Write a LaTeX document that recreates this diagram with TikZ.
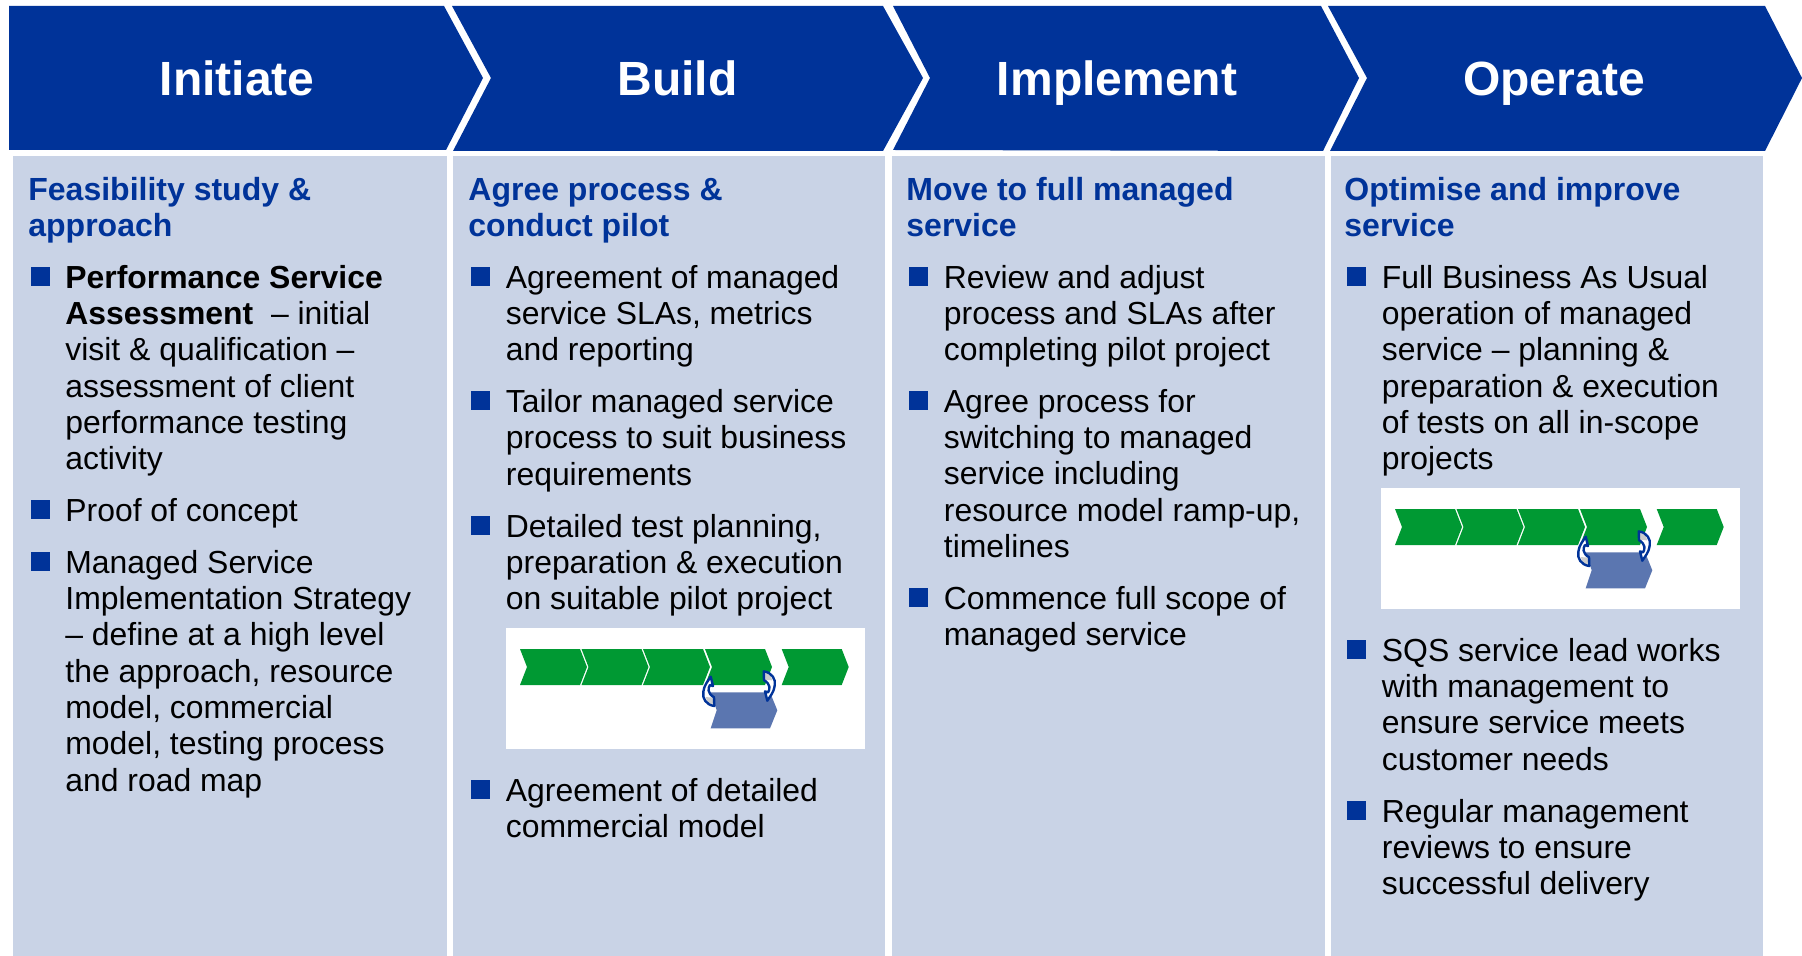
\documentclass[tikz,border=0pt]{standalone}
\usepackage{fontspec}
\setmainfont{Liberation Sans}
\definecolor{sqsblue}{HTML}{003399}
\definecolor{panelblue}{HTML}{C9D3E6}
\definecolor{stepgreen}{HTML}{009933}
\definecolor{chipblue}{HTML}{5B76B0}
\definecolor{turngray}{HTML}{CCCCCC}

\tikzset{
  bannertitle/.style={anchor=base, inner sep=0pt, white, font=\fontsize{24}{28}\selectfont\bfseries},
  phasehead/.style={anchor=north west, inner sep=0pt, yshift=11.4pt, align=left, sqsblue,
    font=\fontsize{16}{18}\selectfont\bfseries, execute at begin node=\strut},
  bodytext/.style={anchor=north west, inner sep=0pt, yshift=11.1pt, align=left,
    font=\fontsize{15.95}{18.15}\selectfont, execute at begin node=\strut},
  bulletmark/.style={fill=sqsblue, minimum size=9.5pt, inner sep=0pt, yshift=5.25pt},
  turnarrow/.pic={
    \fill[white] (5.3,15) .. controls (-3,14) and (-7,7) .. (-5.7,1) .. controls (-5,-3) and (-4,-6) .. (-2.5,-8)
      -- (1.7,-14.3) -- (4,-5) -- (1,-6) .. controls (-1,-3) and (-2,2) .. (5,6.3) -- cycle;
    \fill[turngray] (5.3,15) .. controls (0,14) and (-3,10) .. (-3,6) .. controls (-1,6) and (2,7) .. (5,6.3) -- cycle;
    \draw[sqsblue, line width=1.2pt, line join=round] (5.3,15) .. controls (-3,14) and (-7,7) .. (-5.7,1) .. controls (-5,-3) and (-4,-6) .. (-2.5,-8)
      -- (1.7,-14.3) -- (4,-5) -- (1,-6) .. controls (-1,-3) and (-2,2) .. (5,6.3) -- cycle;
  }
}

\newcommand{\miniprocess}[2]{
  \begin{scope}[shift={(#1,#2)}]
    \fill[white] (0,0) rectangle (358.5,120.5);
    \foreach \xa in {14,75.5,137,199,275.7} {
      \fill[stepgreen] (\xa,21) -- ++(60,0) -- ++(7,18) -- ++(-7,18) -- ++(-60,0) -- ++(7,-18) -- cycle;
    }
    \fill[chipblue] (204.7,64.3) -- (264,64.3) -- (271.3,82.3) -- (264,100.3) -- (204.7,100.3) -- (210.7,82.3) -- cycle;
    \pic at (203,63) {turnarrow};
    \pic[rotate=180] at (263,58.4) {turnarrow};
  \end{scope}
}

\begin{document}
\begin{tikzpicture}[x=0.5pt, y=-0.5pt]
  \useasboundingbox (0,0) rectangle (1802,956);

  % banner
  \fill[sqsblue] (9,6) -- (444,6) -- (483,78) -- (446,150) -- (9,150) -- cycle;
  \fill[sqsblue] (452,6) -- (883,6) -- (923,78) -- (883,151) -- (453,151) -- (491,78) -- cycle;
  \fill[sqsblue] (893,6) -- (1321,6) -- (1359,78) -- (1323,151) -- (893,150) -- (930,78) -- cycle;
  \fill[sqsblue] (1328,6) -- (1765,6) -- (1802,78) -- (1765,151) -- (1330,151) -- (1367,78) -- cycle;

  \node[bannertitle] (initiate) at (237,96) {Initiate};
  \node[bannertitle] (build) at (677.5,96) {Build};
  \node[bannertitle] (implement) at (1117,96) {Implement};
  \node[bannertitle] (operate) at (1554,96) {Operate};

  % panels
  \fill[panelblue] (13,156) rectangle (447,956);
  \fill[panelblue] (453,156) rectangle (885,956);
  \fill[panelblue] (892,156) rectangle (1325,956);
  \fill[panelblue] (1331,156) rectangle (1763,956);

  % initiate
  \node[phasehead] (headA) at (28,200) {Feasibility study \&\\approach};
  \node[bulletmark] (markA1) at (40.5,287) {};
  \node[bodytext] (itemA1) at (65,287) {\textbf{Performance Service}\\\textbf{Assessment}~ – initial\\visit \& qualification –\\assessment of client\\performance testing\\activity};
  \node[bulletmark] (markA2) at (40.5,520.3) {};
  \node[bodytext, yshift=1.1pt] (itemA2) at (65,520.3) {Proof of concept};
  \node[bulletmark] (markA3) at (40.5,572) {};
  \node[bodytext] (itemA3) at (65,572) {Managed Service\\Implementation Strategy\\– define at a high level\\the approach, resource\\model, commercial\\model, testing process\\and road map};

  % build
  \node[phasehead] (headB) at (468,200.5) {Agree process \&\\conduct pilot};
  \node[bulletmark] (markB1) at (480.5,287) {};
  \node[bodytext] (itemB1) at (505.5,287) {Agreement of managed\\service SLAs, metrics\\and reporting};
  \node[bulletmark] (markB2) at (480.5,411.1) {};
  \node[bodytext] (itemB2) at (505.5,411.1) {Tailor managed service\\process to suit business\\requirements};
  \node[bulletmark] (markB3) at (480.5,536) {};
  \node[bodytext] (itemB3) at (505.5,536) {Detailed test planning,\\preparation \& execution\\on suitable pilot project};
  \miniprocess{506}{628}
  \node[bulletmark] (markB4) at (480.5,800) {};
  \node[bodytext] (itemB4) at (505.5,800) {Agreement of detailed\\commercial model};

  % implement
  \node[phasehead] (headC) at (906,200) {Move to full managed\\service};
  \node[bulletmark] (markC1) at (918.5,287) {};
  \node[bodytext] (itemC1) at (943.5,287) {Review and adjust\\process and SLAs after\\completing pilot project};
  \node[bulletmark] (markC2) at (918.5,411.1) {};
  \node[bodytext] (itemC2) at (943.5,411.1) {Agree process for\\switching to managed\\service including\\resource model ramp-up,\\timelines};
  \node[bulletmark] (markC3) at (918.5,608) {};
  \node[bodytext] (itemC3) at (943.5,608) {Commence full scope of\\managed service};

  % operate
  \node[phasehead] (headD) at (1344,200) {Optimise and improve\\service};
  \node[bulletmark] (markD1) at (1356.5,287) {};
  \node[bodytext] (itemD1) at (1381.5,287) {Full Business As Usual\\operation of managed\\service – planning \&\\preparation \& execution\\of tests on all in-scope\\projects};
  \miniprocess{1381}{488}
  \node[bulletmark] (markD2) at (1356.5,660) {};
  \node[bodytext] (itemD2) at (1381.5,660) {SQS service lead works\\with management to\\ensure service meets\\customer needs};
  \node[bulletmark] (markD3) at (1356.5,821) {};
  \node[bodytext] (itemD3) at (1381.5,821) {Regular management\\reviews to ensure\\successful delivery};
\end{tikzpicture}
\end{document}
